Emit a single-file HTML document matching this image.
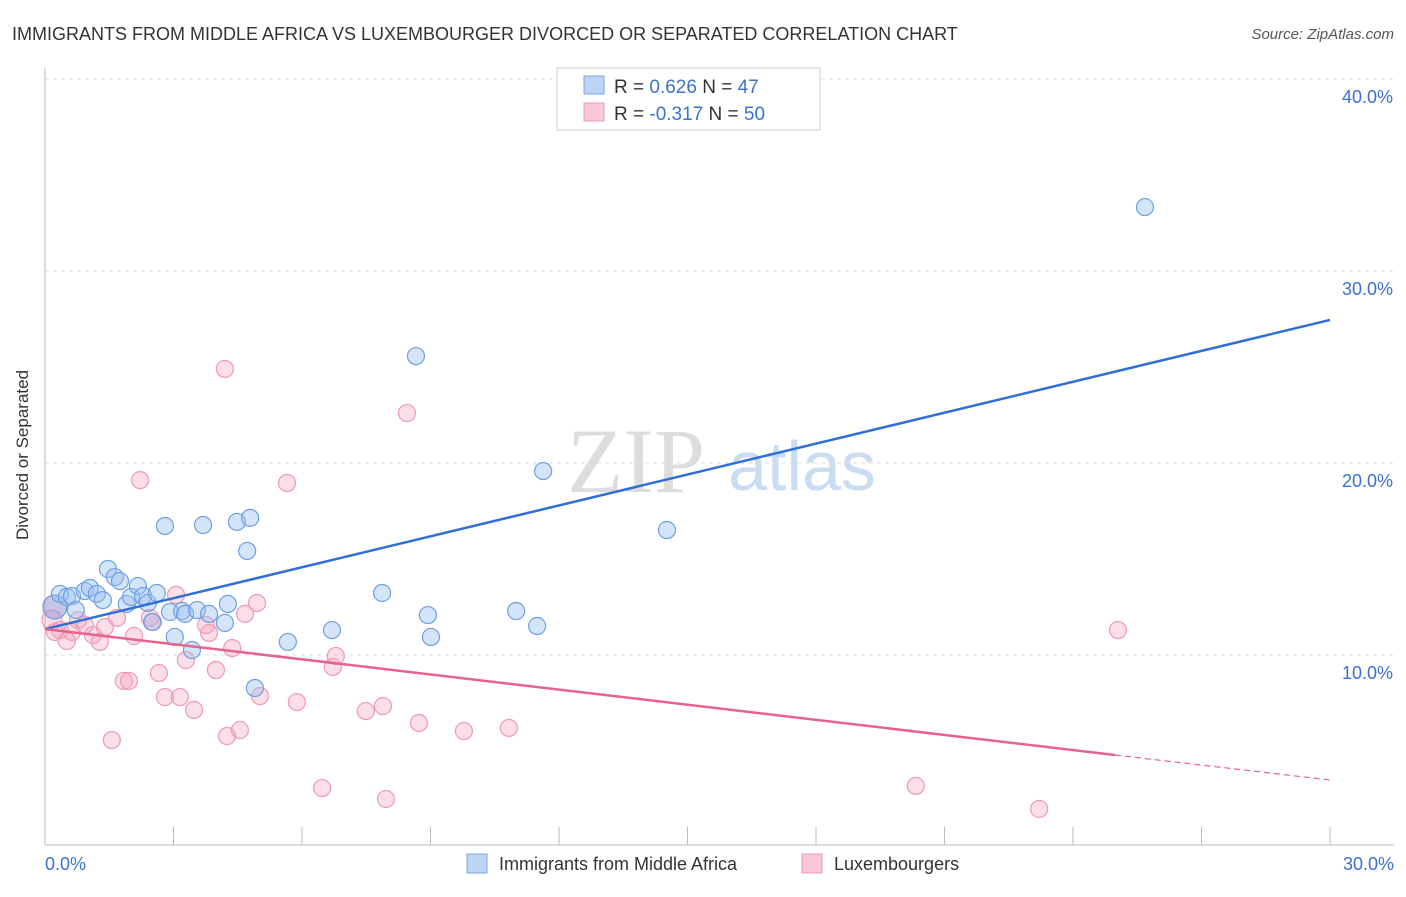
<!DOCTYPE html>
<html><head><meta charset="utf-8"><style>
body{margin:0;background:#fff;font-family:"Liberation Sans",sans-serif;}
</style></head><body>
<svg width="1406" height="892" viewBox="0 0 1406 892" xmlns="http://www.w3.org/2000/svg">
<text x="12" y="40" font-size="18" fill="#333">IMMIGRANTS FROM MIDDLE AFRICA VS LUXEMBOURGER DIVORCED OR SEPARATED CORRELATION CHART</text>
<text x="1394" y="39" font-size="15" fill="#555" font-style="italic" text-anchor="end">Source: ZipAtlas.com</text>
<g>
<text x="636" y="492" font-size="92" fill="#ddd" text-anchor="middle" font-family="Liberation Serif,serif">ZIP</text>
<text x="802" y="490" font-size="70" fill="#c9dcf2" text-anchor="middle">atlas</text>
</g>
<g id="grid"></g>
<line x1="45" y1="68" x2="45" y2="845" stroke="#bbb"/>
<line x1="45" y1="845" x2="1394" y2="845" stroke="#bbb"/>
<g id="ticks"></g>
<text x="28" y="455" font-size="17" fill="#333" text-anchor="middle" transform="rotate(-90 28 455)">Divorced or Separated</text>
<text x="45" y="870" font-size="18" fill="#3a72d0">0.0%</text>
<text x="1394" y="870" font-size="18" fill="#3a72d0" text-anchor="end">30.0%</text>
<g id="points"></g>
<g id="lines"></g>
<g>
<rect x="557" y="68" width="263" height="62" fill="#fff" stroke="#ccc"/>
<rect x="584" y="76" width="20" height="18" fill="#bcd4f6" stroke="#7aa6e6"/>
<rect x="584" y="103" width="20" height="18" fill="#f9c8d6" stroke="#ee9ab4"/>
<text x="614" y="93" font-size="19" fill="#333">R = <tspan fill="#3a72d0"> 0.626</tspan>   N = <tspan fill="#3a72d0">47</tspan></text>
<text x="614" y="120" font-size="19" fill="#333">R = <tspan fill="#3a72d0">-0.317</tspan>   N = <tspan fill="#3a72d0">50</tspan></text>
</g>
<g>
<rect x="467" y="854" width="20" height="19" fill="#bcd4f6" stroke="#7aa6e6"/>
<text x="499" y="870" font-size="18" fill="#333">Immigrants from Middle Africa</text>
<rect x="802" y="854" width="20" height="19" fill="#f9c8d6" stroke="#ee9ab4"/>
<text x="834" y="870" font-size="18" fill="#333">Luxembourgers</text>
</g>
</svg>
<script>
const blueX=[0.23,0.35,0.51,0.63,0.72,0.93,1.05,1.21,1.35,1.47,1.63,1.75,1.91,2.01,2.17,2.29,2.40,2.50,2.61,2.80,2.92,3.03,3.20,3.27,3.43,3.55,3.69,3.83,4.20,4.27,4.48,4.72,4.79,4.90,5.67,6.70,7.87,8.66,8.94,9.01,11.0,11.49,11.63,14.52,25.68];
const blueY=[12.5,13.18,13.02,13.07,12.34,13.33,13.49,13.18,12.86,14.48,14.06,13.85,12.66,13.02,13.59,13.07,12.71,11.72,13.23,16.72,12.24,10.94,12.29,12.14,10.26,12.34,16.77,12.14,11.67,12.66,16.93,15.42,17.14,8.28,10.68,11.30,13.23,25.57,12.08,10.94,12.29,11.51,19.58,16.51,33.33];
const pinkX=[0.16,0.23,0.35,0.51,0.63,0.77,0.93,1.12,1.28,1.40,1.56,1.68,1.84,1.96,2.08,2.22,2.45,2.52,2.66,2.80,3.06,3.15,3.29,3.48,3.76,3.83,3.99,4.20,4.25,4.37,4.55,4.67,4.95,5.02,5.65,5.88,6.47,6.72,6.79,7.49,7.89,7.96,8.45,8.73,9.78,10.83,20.33,23.21,25.05];
const pinkY=[11.82,11.20,11.30,10.73,11.20,11.82,11.56,11.04,10.68,11.46,5.57,11.93,8.65,8.65,10.99,19.11,11.93,11.72,9.06,7.81,13.13,7.81,9.74,7.14,11.56,11.15,9.22,24.9,5.78,10.36,6.09,12.14,12.71,7.86,18.96,7.55,3.07,9.38,9.95,7.08,7.34,2.5,22.6,6.46,6.04,6.20,3.18,1.98,11.30];
const yTicks=[10,20,30,40];
const yTickLabels=["10.0%","20.0%","30.0%","40.0%"];
const xTicks=[0,3,6,9,12,15,18,21,24,27,30];
const blueTrend=[[0,11.35],[30,27.45]];
const pinkTrend=[[0,11.35],[24.98,4.79],[30,3.49]];
const NS="http://www.w3.org/2000/svg";
const xs=v=>45+v*(1285/30), ys=v=>847-v*19.2;
function mk(t,a,p){const e=document.createElementNS(NS,t);for(const k in a)e.setAttribute(k,a[k]);p.appendChild(e);return e;}
const grid=document.getElementById('grid');
yTicks.forEach((t,i)=>{
 const l=mk('line',{x1:45,x2:1394,y1:ys(t),y2:ys(t),stroke:'#ddd','stroke-dasharray':'4,4'},grid);
 
 
 const tx=mk('text',{x:1393,y:ys(t)+24,'font-size':18,fill:'#3a72d0','text-anchor':'end'},grid);
 tx.textContent=yTickLabels[i];
 
 
});
const ticks=document.getElementById('ticks');
xTicks.forEach(t=>{
 const l=mk('line',{x1:xs(t),x2:xs(t),y1:827,y2:845,stroke:'#bbb'},ticks);
 
 
});
const pts=document.getElementById('points');
pinkX.forEach((x,i)=>{
 const c=mk('circle',{cx:xs(x),cy:ys(pinkY[i]),r:i==0?10:8.5,fill:'rgba(244,160,186,0.35)',stroke:'#ee9ab4','stroke-width':1.2},pts);
 
 
});
blueX.forEach((x,i)=>{
 const c=mk('circle',{cx:xs(x),cy:ys(blueY[i]),r:i==0?12:8.5,fill:i==0?'rgba(150,150,210,0.55)':'rgba(150,190,240,0.4)',stroke:'#6f9fe2','stroke-width':1.2},pts);
 
 
});
const ln=document.getElementById('lines');
const b=mk('line',{x1:xs(blueTrend[0][0]),y1:ys(blueTrend[0][1]),x2:xs(blueTrend[1][0]),y2:ys(blueTrend[1][1]),stroke:'#2f6fd6','stroke-width':2.5},ln);


const p1=mk('line',{x1:xs(pinkTrend[0][0]),y1:ys(pinkTrend[0][1]),x2:xs(pinkTrend[1][0]),y2:ys(pinkTrend[1][1]),stroke:'#e8628e','stroke-width':2.5},ln);


const p2=mk('line',{x1:xs(pinkTrend[1][0]),y1:ys(pinkTrend[1][1]),x2:xs(pinkTrend[2][0]),y2:ys(pinkTrend[2][1]),stroke:'#e8628e','stroke-width':1.2,'stroke-dasharray':'6,4'},ln);


</script>
</body></html>
